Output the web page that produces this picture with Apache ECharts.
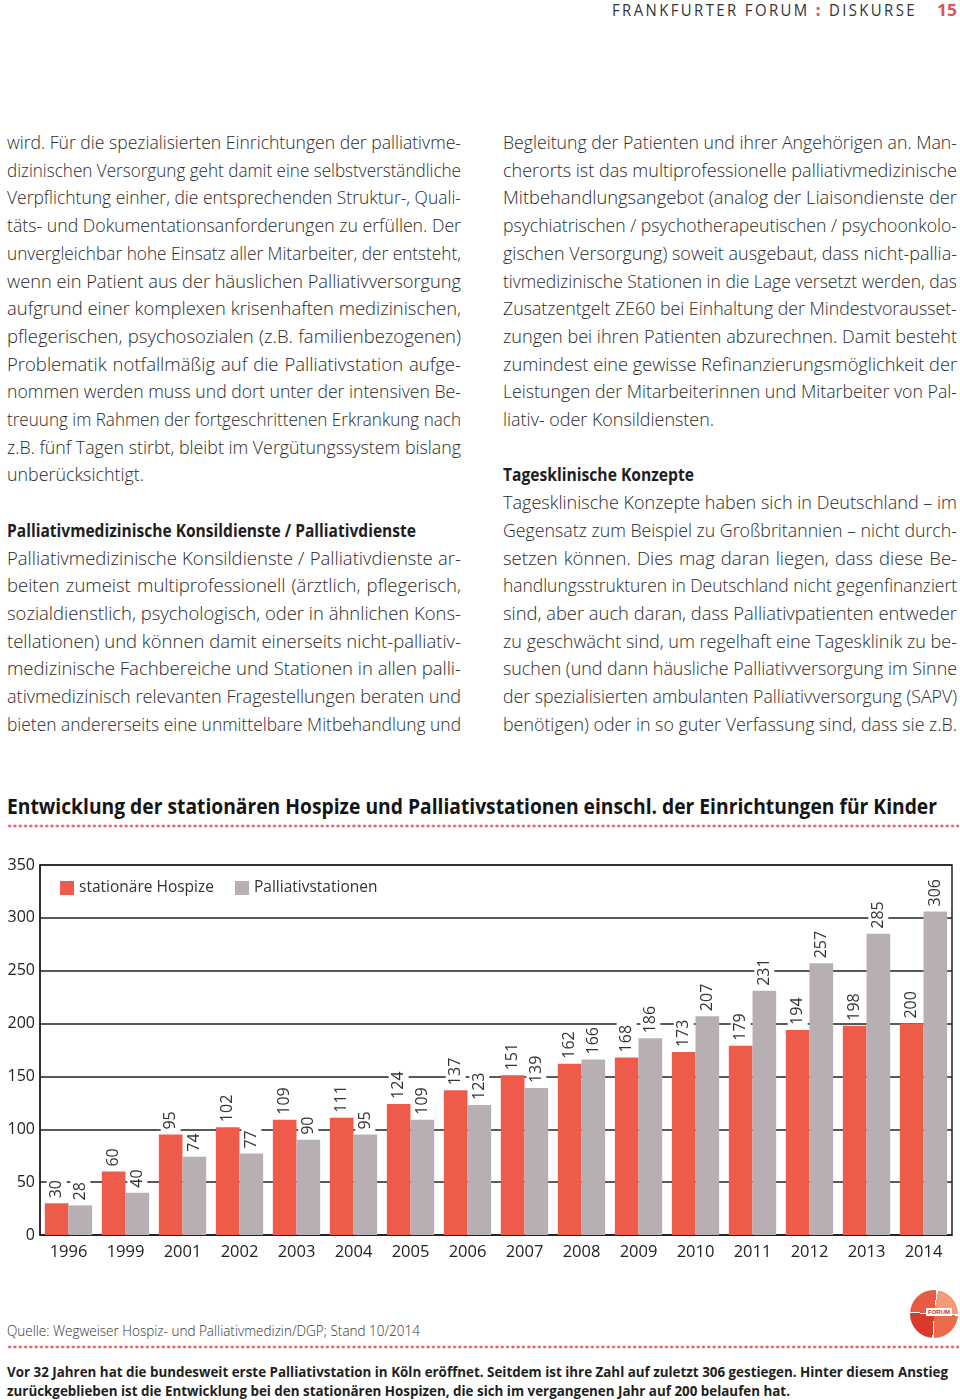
<!DOCTYPE html>
<html><head><meta charset="utf-8">
<script src="https://cdn.jsdelivr.net/npm/echarts@6/dist/echarts.min.js"></script>
<style>
html,body{margin:0;padding:0;background:#fff;}
body{width:960px;height:1400px;position:relative;overflow:hidden;font-family:"Open Sans",sans-serif;color:#2a2a2a;}
.ln{position:absolute;white-space:nowrap;transform-origin:0 50%;}
.dots{position:absolute;height:4px;background-image:radial-gradient(circle,#e2606c 1.3px,transparent 1.7px);background-size:5.3px 4px;background-repeat:repeat-x;}
#logo{position:absolute;left:910px;top:1290px;width:48px;height:48px;border-radius:50%;
background:conic-gradient(from 10deg,#f39a78 0 80deg,#fff 80deg 84deg,#ec6a4c 84deg 170deg,#fff 170deg 174deg,#d93a2c 174deg 262deg,#fff 262deg 266deg,#e85a44 266deg 356deg,#fff 356deg 360deg);}
#logo span{position:absolute;left:16px;top:18px;background:#fff;color:#c33;font:bold 6px "Liberation Sans Narrow","Liberation Sans",sans-serif;padding:0 2px;line-height:8px;}
</style></head><body>
<div id="chart" style="position:absolute;left:0;top:840px;width:960px;height:440px"></div>
<div class="dots" style="left:7px;top:824px;width:952px"></div>
<div class="dots" style="left:7px;top:1345px;width:952px"></div>
<div id="logo"><span>FORUM</span></div>
<script>
// ---- chart data ----
const years = ['1996','1999','2001','2002','2003','2004','2005','2006','2007','2008','2009','2010','2011','2012','2013','2014'];
const hospize = [30, 60, 95, 102, 109, 111, 124, 137, 151, 162, 168, 173, 179, 194, 198, 200];
const palliativ = [28, 40, 74, 77, 90, 95, 109, 123, 139, 166, 186, 207, 231, 257, 285, 306];
const seriesNames = ['stationäre Hospize', 'Palliativstationen'];
const yMin = 0, yMax = 350, yStep = 50;

// ---- page text ----
const leftCol = [
 'wird. Für die spezialisierten Einrichtungen der palliativme-',
 'dizinischen Versorgung geht damit eine selbstverständliche',
 'Verpflichtung einher, die entsprechenden Struktur-, Quali-',
 'täts- und Dokumentationsanforderungen zu erfüllen. Der',
 'unvergleichbar hohe Einsatz aller Mitarbeiter, der entsteht,',
 'wenn ein Patient aus der häuslichen Palliativversorgung',
 'aufgrund einer komplexen krisenhaften medizinischen,',
 'pflegerischen, psychosozialen (z.B. familienbezogenen)',
 'Problematik notfallmäßig auf die Palliativstation aufge-',
 'nommen werden muss und dort unter der intensiven Be-',
 'treuung im Rahmen der fortgeschrittenen Erkrankung nach',
 'z.B. fünf Tagen stirbt, bleibt im Vergütungssystem bislang',
 '@unberücksichtigt.|137',
 '',
 '#Palliativmedizinische Konsildienste / Palliativdienste|409',
 'Palliativmedizinische Konsildienste / Palliativdienste ar-',
 'beiten zumeist multiprofessionell (ärztlich, pflegerisch,',
 'sozialdienstlich, psychologisch, oder in ähnlichen Kons-',
 'tellationen) und können damit einerseits nicht-palliativ-',
 'medizinische Fachbereiche und Stationen in allen palli-',
 'ativmedizinisch relevanten Fragestellungen beraten und',
 'bieten andererseits eine unmittelbare Mitbehandlung und'
];
const rightCol = [
 'Begleitung der Patienten und ihrer Angehörigen an. Man-',
 'cherorts ist das multiprofessionelle palliativmedizinische',
 'Mitbehandlungsangebot (analog der Liaisondienste der',
 'psychiatrischen / psychotherapeutischen / psychoonkolo-',
 'gischen Versorgung) soweit ausgebaut, dass nicht-pallia-',
 'tivmedizinische Stationen in die Lage versetzt werden, das',
 'Zusatzentgelt ZE60 bei Einhaltung der Mindestvorausset-',
 'zungen bei ihren Patienten abzurechnen. Damit besteht',
 'zumindest eine gewisse Refinanzierungsmöglichkeit der',
 'Leistungen der Mitarbeiterinnen und Mitarbeiter von Pal-',
 '@liativ- oder Konsildiensten.|211',
 '',
 '#Tagesklinische Konzepte|191',
 'Tagesklinische Konzepte haben sich in Deutschland – im',
 'Gegensatz zum Beispiel zu Großbritannien – nicht durch-',
 'setzen können. Dies mag daran liegen, dass diese Be-',
 'handlungsstrukturen in Deutschland nicht gegenfinanziert',
 'sind, aber auch daran, dass Palliativpatienten entweder',
 'zu geschwächt sind, um regelhaft eine Tagesklinik zu be-',
 'suchen (und dann häusliche Palliativversorgung im Sinne',
 'der spezialisierten ambulanten Palliativversorgung (SAPV)',
 'benötigen) oder in so guter Verfassung sind, dass sie z.B.'
];

function addLine(html, x, cy, W, o) {
  o = o || {};
  const d = document.createElement('div');
  d.className = 'ln';
  const size = o.size || 18.5, lh = o.lh || 24;
  d.style.left = x + 'px';
  d.style.top = (cy - lh / 2) + 'px';
  d.style.lineHeight = lh + 'px';
  d.style.fontSize = size + 'px';
  d.style.fontWeight = o.weight || 300;
  if (o.color) d.style.color = o.color;
  if (o.ls) d.style.letterSpacing = o.ls + 'px';
  if (o.family) d.style.fontFamily = o.family;
  d.innerHTML = html;
  document.body.appendChild(d);
  if (W) {
    const w = d.getBoundingClientRect().width;
    const spaces = (d.textContent.match(/ /g) || []).length;
    if (o.justify && w < W && spaces > 0) {
      d.style.wordSpacing = ((W - w) / spaces) + 'px';
    } else {
      d.style.transform = 'scaleX(' + (W / w) + ')';
    }
  }
  return d;
}

function addCol(lines, x) {
  lines.forEach((s, i) => {
    if (!s) return;
    const cy = 142 + i * 27.7;
    if (s[0] === '#') {
      const [t, w] = s.slice(1).split('|');
      addLine(t, x, cy, +w, {weight: 700, color: '#1e1e1e', size: 17.5});
    } else if (s[0] === '@') {
      const [t, w] = s.slice(1).split('|');
      addLine(t, x, cy, +w, {});
    } else {
      addLine(s, x, cy, 454, {justify: true});
    }
  });
}
addCol(leftCol, 7);
addCol(rightCol, 503);

addLine('FRANKFURTER FORUM <span style="color:#e2505c;font-weight:800">:</span> DISKURSE', 612, 10, 305, {size: 16, ls: 2.6, color: '#333', weight: 400});
addLine('15', 937, 10, 20, {size: 16, weight: 700, color: '#e2505c'});
addLine('Entwicklung der stationären Hospize und Palliativstationen einschl. der Einrichtungen für Kinder', 7, 806, 930, {size: 21, weight: 700, color: '#141414', lh: 28});
addLine('Quelle: Wegweiser Hospiz- und Palliativmedizin/DGP; Stand 10/2014', 7, 1331, 413, {size: 14.5, color: '#333', lh: 20});
addLine('Vor 32 Jahren hat die bundesweit erste Palliativstation in Köln eröffnet. Seitdem ist ihre Zahl auf zuletzt 306 gestiegen. Hinter diesem Anstieg', 7, 1371, 941, {size: 15, weight: 700, color: '#1e1e1e', lh: 20});
addLine('zurückgeblieben ist die Entwicklung bei den stationären Hospizen, die sich im vergangenen Jahr auf 200 belaufen hat.', 7, 1390, 783, {size: 15, weight: 700, color: '#1e1e1e', lh: 20});

// ---- chart ----
const chart = echarts.init(document.getElementById('chart'), null, {renderer: 'canvas'});
const barLabel = {
  show: true, position: 'top', rotate: 90, align: 'left', verticalAlign: 'middle',
  distance: 3, fontSize: 16, color: '#333', backgroundColor: '#fff', padding: [0, 2], lineHeight: 20
};
chart.setOption({
  animation: false,
  textStyle: {fontFamily: 'Open Sans'},
  grid: {left: 40, right: 8, top: 25, bottom: 45, show: true, borderColor: '#222', borderWidth: 1.5, backgroundColor: 'transparent'},
  legend: {
    left: 55, top: 35, itemWidth: 14, itemHeight: 14, itemGap: 21, icon: 'rect',
    textStyle: {fontSize: 15.5, color: '#333'},
    data: seriesNames
  },
  xAxis: {
    type: 'category', data: years,
    axisTick: {show: false},
    axisLine: {lineStyle: {color: '#222', width: 1.5}},
    axisLabel: {fontSize: 16.5, color: '#222', margin: 9}
  },
  yAxis: {
    type: 'value', min: yMin, max: yMax, interval: yStep,
    axisLine: {show: true, lineStyle: {color: '#222', width: 1.5}},
    axisTick: {show: false},
    splitLine: {lineStyle: {color: '#222', width: 1.5}},
    axisLabel: {fontSize: 16, color: '#222', margin: 5}
  },
  series: [
    {name: seriesNames[0], type: 'bar', data: hospize, itemStyle: {color: '#ef5b4b'}, barGap: '0%', barCategoryGap: '17%', label: barLabel},
    {name: seriesNames[1], type: 'bar', data: palliativ, itemStyle: {color: '#b8afb5'}, barGap: '0%', barCategoryGap: '17%', label: barLabel}
  ]
});
</script>
</body></html>
